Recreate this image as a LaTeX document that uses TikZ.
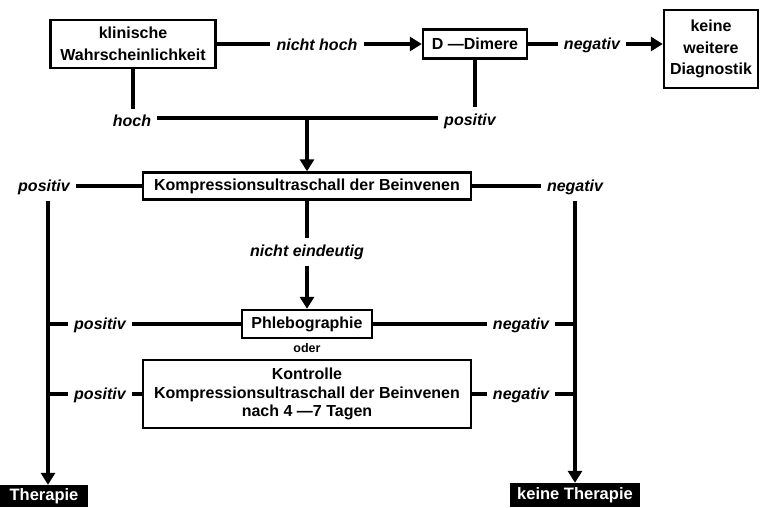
\documentclass[tikz,border=0pt]{standalone}
\usepackage{fontspec}
\setmainfont{Liberation Sans}
\usetikzlibrary{arrows.meta}
\begin{document}
\begin{tikzpicture}[x=1pt,y=-1pt,
  box/.style={draw,line width=2.4pt,font=\bfseries\fontsize{16}{18.5}\selectfont,align=center,inner sep=0pt},
  wide/.style={font=\bfseries\fontsize{16}{21.5}\selectfont},
  dark/.style={fill=black,text=white,font=\bfseries\fontsize{16.5}{18}\selectfont,inner sep=0pt},
  lab/.style={font=\bfseries\itshape\fontsize{16}{18}\selectfont,inner sep=6pt},
  conn/.style={line width=3.6pt},
  arr/.style={line width=3.6pt,-{Triangle[length=12pt,width=14pt]}}]
\useasboundingbox (0,0) rectangle (760,507);
% boxes
\node[box,wide,minimum width=165pt,minimum height=48pt] (kw) at (133,44) {klinische\\Wahrscheinlichkeit};
\node[box,minimum width=104pt,minimum height=29pt] (dd) at (475,44) {D —Dimere};
\node[box,wide,minimum width=94pt,minimum height=78pt] (kwd) at (711,49) {keine\\weitere\\Diagnostik};
\node[box,minimum width=328pt,minimum height=27pt] (ks) at (307,186) {Kompressionsultraschall der Beinvenen};
\node[box,minimum width=130pt,minimum height=28pt] (ph) at (307,324) {Phlebographie};
\node[box,minimum width=328pt,minimum height=68pt] (ko) at (307,394) {Kontrolle\\Kompressionsultraschall der Beinvenen\\nach 4 —7 Tagen};
\node[dark,minimum width=88pt,minimum height=22pt] (th) at (44,496) {Therapie};
\node[dark,minimum width=130pt,minimum height=24pt] (kt) at (575,495) {keine Therapie};
% labels
\node[lab] (nh) at (317,45) {nicht hoch};
\node[lab] (ng1) at (592,45) {negativ};
\node[lab] (ho) at (132,121) {hoch};
\node[lab] (p1) at (470,121) {positiv};
\node[lab] (pA) at (44,187) {positiv};
\node[lab] (nA) at (575,187) {negativ};
\node[lab] (ne) at (307,252) {nicht eindeutig};
\node[lab] (pB) at (100,325) {positiv};
\node[lab] (nB) at (521,325) {negativ};
\node[font=\bfseries\fontsize{12.5}{14}\selectfont] (od) at (307,348) {oder};
\node[lab] (pC) at (100,395) {positiv};
\node[lab] (nC) at (521,395) {negativ};
\coordinate (lv) at (48,0);
\coordinate (rv) at (575,0);
\coordinate (j) at (307,118);
% connectors
\draw[conn] (kw.east) -- (kw.east -| nh.west);
\draw[arr] (dd.west -| nh.east) -- (dd.west);
\draw[conn] (dd.east) -- (dd.east -| ng1.west);
\draw[arr] (dd.east -| ng1.east) -- (dd.east -| kwd.west);
\draw[conn] (kw.south) -- (ho.north -| kw.south);
\draw[conn] (dd.south) -- (dd.south |- p1.north);
\draw[conn] (ho.east |- j) -- (p1.west |- j);
\draw[arr] (j) -- (ks.north);
\draw[conn] (ks.west) -- (ks.west -| pA.east);
\draw[conn] (ks.east) -- (ks.east -| nA.west);
\draw[conn] (ks.south) -- (ne.north);
\draw[arr] (ne.south) -- (ph.north);
\draw[arr] (lv |- pA.south) -- (lv |- th.north);
\draw[arr] (rv |- nA.south) -- (rv |- kt.north);
\draw[conn] (lv |- ph.west) -- (ph.west -| pB.west);
\draw[conn] (ph.west -| pB.east) -- (ph.west);
\draw[conn] (ph.east) -- (ph.east -| nB.west);
\draw[conn] (ph.east -| nB.east) -- (rv |- ph.east);
\draw[conn] (lv |- ko.west) -- (ko.west -| pC.west);
\draw[conn] (ko.west -| pC.east) -- (ko.west);
\draw[conn] (ko.east) -- (ko.east -| nC.west);
\draw[conn] (ko.east -| nC.east) -- (rv |- ko.east);
\end{tikzpicture}
\end{document}
